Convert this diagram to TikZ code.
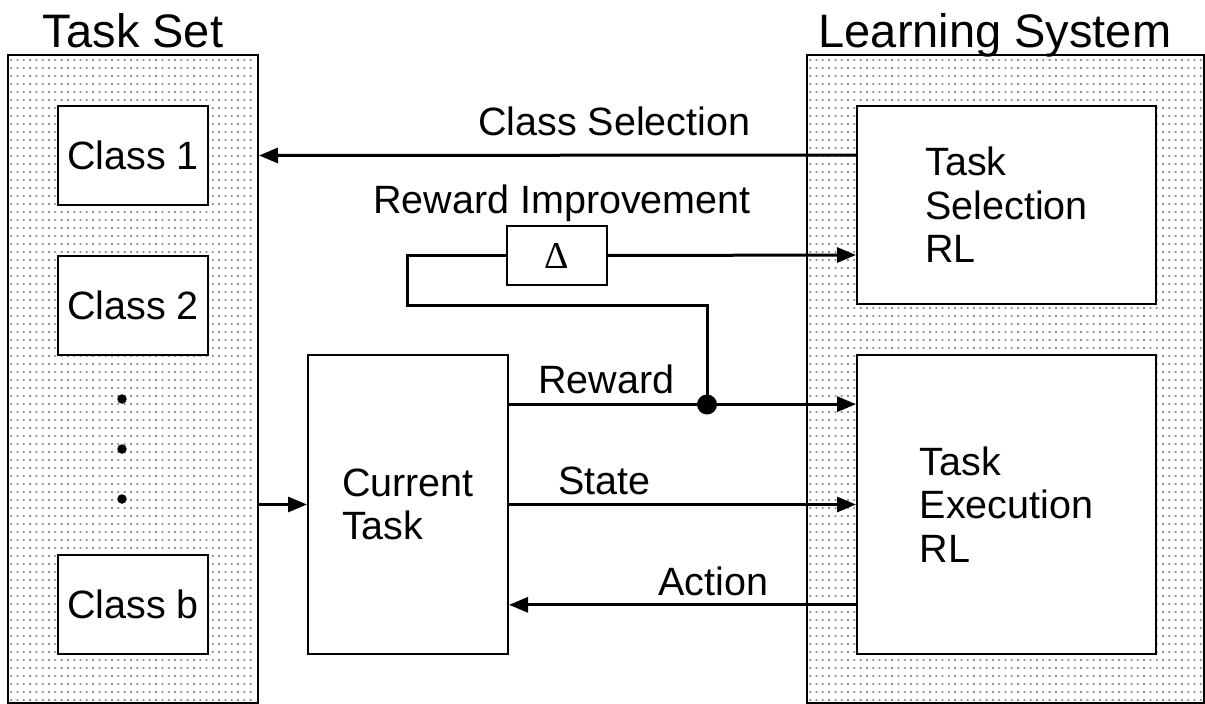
\documentclass[tikz,border=0pt]{standalone}
\usepackage{fontspec}
\setmainfont{Liberation Sans}
\newfontfamily\deltafont{Liberation Serif}
\usetikzlibrary{arrows.meta,calc}

\definecolor{dotgray}{HTML}{909090}

\tikzset{
  blockbox/.style={draw=black, line width=2pt, fill=white, inner sep=0pt,
    font=\fontsize{39.5}{43.5}\selectfont, align=left},
  deltabox/.style={draw=black, line width=1.5pt, fill=white, inner sep=0pt,
    minimum width=100pt, minimum height=59pt, font=\deltafont\fontsize{38}{44}\selectfont},
  label/.style={font=\fontsize{39.5}{43.5}\selectfont, inner sep=0pt, anchor=base west},
  titletext/.style={font=\fontsize{47}{52}\selectfont, inner sep=0pt, anchor=base},
  wire/.style={line width=3pt},
  flow/.style={wire, -{Triangle[length=19pt,width=15pt]}},
  bullet/.style={circle, fill=black, inner sep=0pt, minimum size=9.5pt},
  junction/.style={circle, fill=black, inner sep=0pt, minimum size=20pt},
}

\begin{document}
\begin{tikzpicture}[x=1pt, y=-1pt]
\useasboundingbox (0,0) rectangle (1205,704);

% --- stippled outer panels, one row of dots per path ---
\foreach \xa/\n in {8/38, 807/62} {
  \foreach \j in {0,...,80} {
    \fill[dotgray]
      \foreach \i in {0,...,\n} {
        ({\xa+3.2+6.3*\i-0.9}, {60+8*\j-0.9}) rectangle ++(1.8,1.8)
      };
  }
}
\node[draw=black, line width=2pt, inner sep=0pt, minimum width=250pt, minimum height=648pt]
  (tset) at (133,379) {};
\node[draw=black, line width=2pt, inner sep=0pt, minimum width=397pt, minimum height=648pt]
  (lsys) at (1005.5,379) {};

% --- titles ---
\node[titletext] (tsettitle) at (133,47) {Task Set};
\node[titletext] (lsystitle) at (995,47) {Learning System};

% --- task classes ---
\node[blockbox, minimum width=150pt, minimum height=99pt] (c1) at (133,155.5) {Class 1};
\node[blockbox, minimum width=150pt, minimum height=99pt] (c2) at (133,305.5) {Class 2};
\node[blockbox, minimum width=150pt, minimum height=99pt] (cb) at (133,604.5) {Class b};
\node[bullet] (d1) at (122,399) {};
\node[bullet] (d2) at (122,449) {};
\node[bullet] (d3) at (122,499) {};

% --- current task and learners ---
\node[blockbox, minimum width=200pt, minimum height=299pt] (cur) at (408,504.5) {Current\\Task};
\node[blockbox, minimum width=299pt, minimum height=198pt] (tsel) at (1006.5,205) {Task\\Selection\\RL};
\node[blockbox, minimum width=299pt, minimum height=299pt] (texe) at (1006.5,504.5) {Task\\Execution\\RL};

% --- reward improvement block ---
\node[deltabox] (delta) at (557,255.5) {Δ};

% --- connection points ---
\coordinate (selout) at ($(tsel.north west)!.25!(tsel.south west)$);
\coordinate (selin)  at ($(tsel.north west)!.75!(tsel.south west)$);
\coordinate (rwout)  at ($(cur.north east)!{1/6}!(cur.south east)$);
\coordinate (stout)  at ($(cur.north east)!.5!(cur.south east)$);
\coordinate (acin)   at ($(cur.north east)!{5/6}!(cur.south east)$);
\coordinate (rwin)   at ($(texe.north west)!{1/6}!(texe.south west)$);
\coordinate (stin)   at ($(texe.north west)!.5!(texe.south west)$);
\coordinate (acout)  at ($(texe.north west)!{5/6}!(texe.south west)$);
\coordinate (loopa)  at (407,255.5);
\coordinate (loopb)  at (407,305);
\coordinate (loopc)  at (707,305);
\node[junction] (jn) at (707,404.5) {};

% --- connectors ---
\draw[flow] (selout) -- (tset.east |- c1.center);
\draw[flow] (tset.east |- cur.center) -- (cur.west);
\draw[flow] (rwout) -- (rwin);
\draw[flow] (stout) -- (stin);
\draw[flow] (acout) -- (acin);
\draw[flow] (delta.east) -- (selin);
\draw[wire, line join=miter] (delta.west) -- (loopa) -- (loopb) -- (loopc) -- (jn.center);

% --- connector labels ---
\node[label] (lclass)  at (478,135) {Class Selection};
\node[label] (limpr)   at (373,213) {Reward Improvement};
\node[label] (lreward) at (538,393) {Reward};
\node[label] (lstate)  at (558,494) {State};
\node[label] (laction) at (658,595) {Action};
\end{tikzpicture}
\end{document}
